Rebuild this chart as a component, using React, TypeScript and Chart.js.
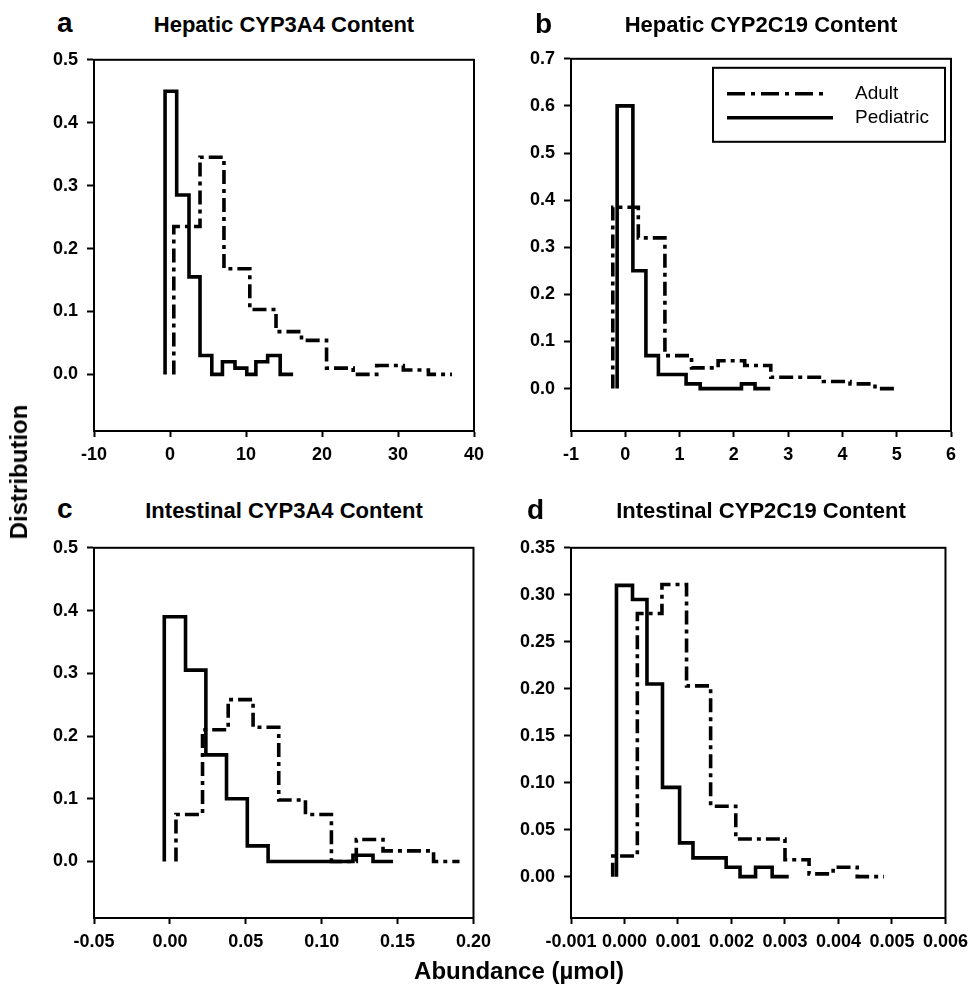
import React, { useEffect, useRef } from "react";
import { Chart, registerables } from "chart.js";

Chart.register(...registerables);

const FONT = "'Liberation Sans', Arial, Helvetica, sans-serif";

// ---------- Panel a: Hepatic CYP3A4 Content ----------
const aPedEdges = [-0.65, 0.88, 2.5, 3.95, 5.5, 6.9, 8.55, 10.1, 11.3, 12.85, 14.5, 16.2];
const aPedHeights = [0.45, 0.285, 0.155, 0.03, 0, 0.02, 0.01, 0, 0.02, 0.03, 0];
const aAdEdges = [0.5, 3.95, 7.1, 10.5, 13.95, 17.3, 20.6, 24.1, 27.2, 30.7, 34, 37.1];
const aAdHeights = [0.235, 0.345, 0.168, 0.103, 0.068, 0.054, 0.01, 0, 0.014, 0.007, 0];
const aXTicks = [-10, 0, 10, 20, 30, 40];
const aYTicks = [0, 0.1, 0.2, 0.3, 0.4, 0.5];

// ---------- Panel b: Hepatic CYP2C19 Content ----------
const bPedEdges = [-0.15, 0.14, 0.38, 0.61, 1.12, 1.38, 2.14, 2.39, 2.67];
const bPedHeights = [0.6, 0.25, 0.07, 0.03, 0.01, 0, 0.01, 0];
const bAdEdges = [-0.23, 0.24, 0.73, 1.22, 1.71, 2.2, 2.68, 3.65, 4.14, 4.6, 5.0];
const bAdHeights = [0.385, 0.32, 0.07, 0.044, 0.059, 0.049, 0.024, 0.015, 0.01, 0];
const bXTicks = [-1, 0, 1, 2, 3, 4, 5, 6];
const bYTicks = [0, 0.1, 0.2, 0.3, 0.4, 0.5, 0.6, 0.7];

// ---------- Panel c: Intestinal CYP3A4 Content ----------
const cPedEdges = [-0.0037, 0.0103, 0.0237, 0.0373, 0.051, 0.0647, 0.1206, 0.1338, 0.147];
const cPedHeights = [0.39, 0.305, 0.17, 0.1, 0.025, 0, 0.01, 0];
const cAdEdges = [0.004, 0.0215, 0.0384, 0.0548, 0.0717, 0.0893, 0.1064, 0.1228, 0.1404, 0.1737, 0.1908];
const cAdHeights = [0.075, 0.21, 0.258, 0.214, 0.098, 0.075, 0, 0.035, 0.017, 0];
const cXTicks = [-0.05, 0, 0.05, 0.1, 0.15, 0.2];
const cYTicks = [0, 0.1, 0.2, 0.3, 0.4, 0.5];

// ---------- Panel d: Intestinal CYP2C19 Content ----------
const dPedEdges = [-0.00015, 0.00015, 0.00042, 0.00071, 0.00103, 0.00128, 0.0019, 0.00216, 0.00245, 0.00276, 0.00307];
const dPedHeights = [0.31, 0.295, 0.205, 0.095, 0.036, 0.02, 0.01, 0, 0.01, 0];
const dAdEdges = [-0.00022, 0.00024, 0.0007, 0.00116, 0.00161, 0.00208, 0.003, 0.00345, 0.0039, 0.00435, 0.00485];
const dAdHeights = [0.022, 0.28, 0.311, 0.203, 0.075, 0.04, 0.018, 0.003, 0.01, 0];
const dXTicks = [-0.001, 0, 0.001, 0.002, 0.003, 0.004, 0.005, 0.006];
const dYTicks = [0, 0.05, 0.1, 0.15, 0.2, 0.25, 0.3, 0.35];

const seriesLabels = ["Adult", "Pediatric"];
const ADULT_DASH = [14, 5, 4, 5];
const LINE_W = 3.6;

function stepPoints(edges: number[], heights: number[]) {
  const pts: { x: number; y: number }[] = [{ x: edges[0], y: 0 }];
  for (let i = 0; i < heights.length; i++) {
    pts.push({ x: edges[i], y: heights[i] });
    pts.push({ x: edges[i + 1], y: heights[i] });
  }
  return pts;
}

const framePlugin = {
  id: "frame",
  afterDraw(chart: any) {
    const { ctx, chartArea: a } = chart;
    ctx.save();
    ctx.strokeStyle = "#000";
    ctx.lineWidth = 2;
    ctx.setLineDash([]);
    ctx.strokeRect(a.left, a.top, a.right - a.left, a.bottom - a.top);
    ctx.restore();
  },
};

const boxLegendPlugin = {
  id: "boxLegend",
  afterDraw(chart: any) {
    const { ctx, chartArea: a } = chart;
    const x0 = a.left + 142;
    const y0 = a.top + 9;
    const w = 232;
    const h = 74;
    ctx.save();
    ctx.strokeStyle = "#000";
    ctx.lineWidth = 2;
    ctx.setLineDash([]);
    ctx.strokeRect(x0, y0, w, h);
    const rows = [
      { label: seriesLabels[0], dash: [18, 6, 4, 6], len: 97, dy: 26 },
      { label: seriesLabels[1], dash: [], len: 106, dy: 50 },
    ];
    rows.forEach((r) => {
      ctx.beginPath();
      ctx.lineWidth = LINE_W;
      ctx.lineCap = "butt";
      ctx.setLineDash(r.dash);
      ctx.moveTo(x0 + 14, y0 + r.dy);
      ctx.lineTo(x0 + 14 + r.len, y0 + r.dy);
      ctx.stroke();
      ctx.setLineDash([]);
      ctx.fillStyle = "#000";
      ctx.font = `19px ${FONT}`;
      ctx.textAlign = "left";
      ctx.textBaseline = "middle";
      ctx.fillText(r.label, x0 + 142, y0 + r.dy);
    });
    ctx.restore();
  },
};

type Rect = { L: number; T: number; R: number; B: number };

interface PanelProps {
  rect: Rect;
  pedEdges: number[];
  pedHeights: number[];
  adEdges: number[];
  adHeights: number[];
  xTicks: number[];
  yTicks: number[];
  xDec: number;
  yDec: number;
  yMin: number;
  legend?: boolean;
}

const PAD_L = 90;
const PAD_T = 12;
const PAD_B = 48;
const PAD_R = 24;
const YW = 70;
const XH = 40;

function Panel(p: PanelProps) {
  const ref = useRef<HTMLCanvasElement>(null);
  const { rect } = p;
  const cw = rect.R - rect.L + PAD_L + PAD_R;
  const ch = rect.B - rect.T + PAD_T + PAD_B;

  useEffect(() => {
    const tickFont = { family: FONT, size: 18, weight: "bold" as const };
    const chart = new Chart(ref.current as HTMLCanvasElement, {
      type: "line",
      data: {
        datasets: [
          {
            label: seriesLabels[1],
            data: stepPoints(p.pedEdges, p.pedHeights),
            borderColor: "#000",
            borderWidth: LINE_W,
            pointRadius: 0,
            fill: false,
            tension: 0,
            borderJoinStyle: "miter",
            borderCapStyle: "butt",
          },
          {
            label: seriesLabels[0],
            data: stepPoints(p.adEdges, p.adHeights),
            borderColor: "#000",
            borderWidth: LINE_W,
            borderDash: ADULT_DASH,
            pointRadius: 0,
            fill: false,
            tension: 0,
            borderJoinStyle: "miter",
            borderCapStyle: "butt",
          },
        ],
      },
      options: {
        responsive: false,
        animation: false,
        devicePixelRatio: 1,
        events: [],
        layout: { padding: { left: PAD_L - YW, top: PAD_T, right: PAD_R, bottom: PAD_B - XH } },
        plugins: { legend: { display: false }, tooltip: { enabled: false }, title: { display: false } },
        scales: {
          x: {
            type: "linear",
            min: p.xTicks[0],
            max: p.xTicks[p.xTicks.length - 1],
            afterFit: (s: any) => {
              s.height = XH;
            },
            afterBuildTicks: (s: any) => {
              s.ticks = p.xTicks.map((v) => ({ value: v }));
            },
            ticks: {
              callback: (v: any) => Number(v).toFixed(p.xDec),
              font: tickFont,
              color: "#000",
              padding: 7,
              maxRotation: 0,
              minRotation: 0,
              autoSkip: false,
            },
            grid: { display: true, drawOnChartArea: false, drawTicks: true, tickLength: 6, tickWidth: 2, tickColor: "#000" },
            border: { display: true, color: "#000", width: 2 },
          },
          y: {
            type: "linear",
            min: p.yMin,
            max: p.yTicks[p.yTicks.length - 1],
            afterFit: (s: any) => {
              s.width = YW;
            },
            afterBuildTicks: (s: any) => {
              s.ticks = p.yTicks.map((v) => ({ value: v }));
            },
            ticks: {
              callback: (v: any) => Number(v).toFixed(p.yDec),
              font: tickFont,
              color: "#000",
              padding: 9,
              autoSkip: false,
            },
            grid: { display: true, drawOnChartArea: false, drawTicks: true, tickLength: 7, tickWidth: 2, tickColor: "#000" },
            border: { display: true, color: "#000", width: 2 },
          },
        },
      } as any,
      plugins: p.legend ? [framePlugin, boxLegendPlugin] : [framePlugin],
    });
    return () => chart.destroy();
  }, []);

  return (
    <canvas
      ref={ref}
      width={cw}
      height={ch}
      style={{ position: "absolute", left: rect.L - PAD_L, top: rect.T - PAD_T, width: cw, height: ch }}
    />
  );
}

const txt = (size: number, bold = true): React.CSSProperties => ({
  position: "absolute",
  fontFamily: FONT,
  fontSize: size,
  fontWeight: bold ? "bold" : "normal",
  lineHeight: 1,
  whiteSpace: "nowrap",
  color: "#000",
});

export default function App() {
  return (
    <div
      style={{
        position: "absolute",
        left: 0,
        top: 0,
        width: 975,
        height: 984,
        overflow: "hidden",
        background: "#fff",
      }}
    >
      <Panel
        rect={{ L: 94, T: 52, R: 474, B: 431 }}
        pedEdges={aPedEdges}
        pedHeights={aPedHeights}
        adEdges={aAdEdges}
        adHeights={aAdHeights}
        xTicks={aXTicks}
        yTicks={aYTicks}
        xDec={0}
        yDec={1}
        yMin={-0.09}
      />
      <Panel
        rect={{ L: 571, T: 51, R: 951, B: 431 }}
        pedEdges={bPedEdges}
        pedHeights={bPedHeights}
        adEdges={bAdEdges}
        adHeights={bAdHeights}
        xTicks={bXTicks}
        yTicks={bYTicks}
        xDec={0}
        yDec={1}
        yMin={-0.09}
        legend
      />
      <Panel
        rect={{ L: 94, T: 540, R: 474, B: 918 }}
        pedEdges={cPedEdges}
        pedHeights={cPedHeights}
        adEdges={cAdEdges}
        adHeights={cAdHeights}
        xTicks={cXTicks}
        yTicks={cYTicks}
        xDec={2}
        yDec={1}
        yMin={-0.09}
      />
      <Panel
        rect={{ L: 571, T: 540, R: 951, B: 918 }}
        pedEdges={dPedEdges}
        pedHeights={dPedHeights}
        adEdges={dAdEdges}
        adHeights={dAdHeights}
        xTicks={dXTicks}
        yTicks={dYTicks}
        xDec={3}
        yDec={2}
        yMin={-0.044}
      />

      <div style={{ ...txt(22), left: 284, top: 25, transform: "translate(-50%,-50%)" }}>Hepatic CYP3A4 Content</div>
      <div style={{ ...txt(22), left: 761, top: 25, transform: "translate(-50%,-50%)" }}>Hepatic CYP2C19 Content</div>
      <div style={{ ...txt(22), left: 284, top: 511, transform: "translate(-50%,-50%)" }}>Intestinal CYP3A4 Content</div>
      <div style={{ ...txt(22), left: 761, top: 511, transform: "translate(-50%,-50%)" }}>Intestinal CYP2C19 Content</div>

      <div style={{ ...txt(28), left: 57, top: 9 }}>a</div>
      <div style={{ ...txt(28), left: 535, top: 10 }}>b</div>
      <div style={{ ...txt(28), left: 57, top: 495 }}>c</div>
      <div style={{ ...txt(28), left: 527, top: 496 }}>d</div>

      <div style={{ ...txt(24), left: 19, top: 472, transform: "translate(-50%,-50%) rotate(-90deg)" }}>Distribution</div>
      <div style={{ ...txt(24), left: 519, top: 971, transform: "translate(-50%,-50%)" }}>Abundance (µmol)</div>
    </div>
  );
}
